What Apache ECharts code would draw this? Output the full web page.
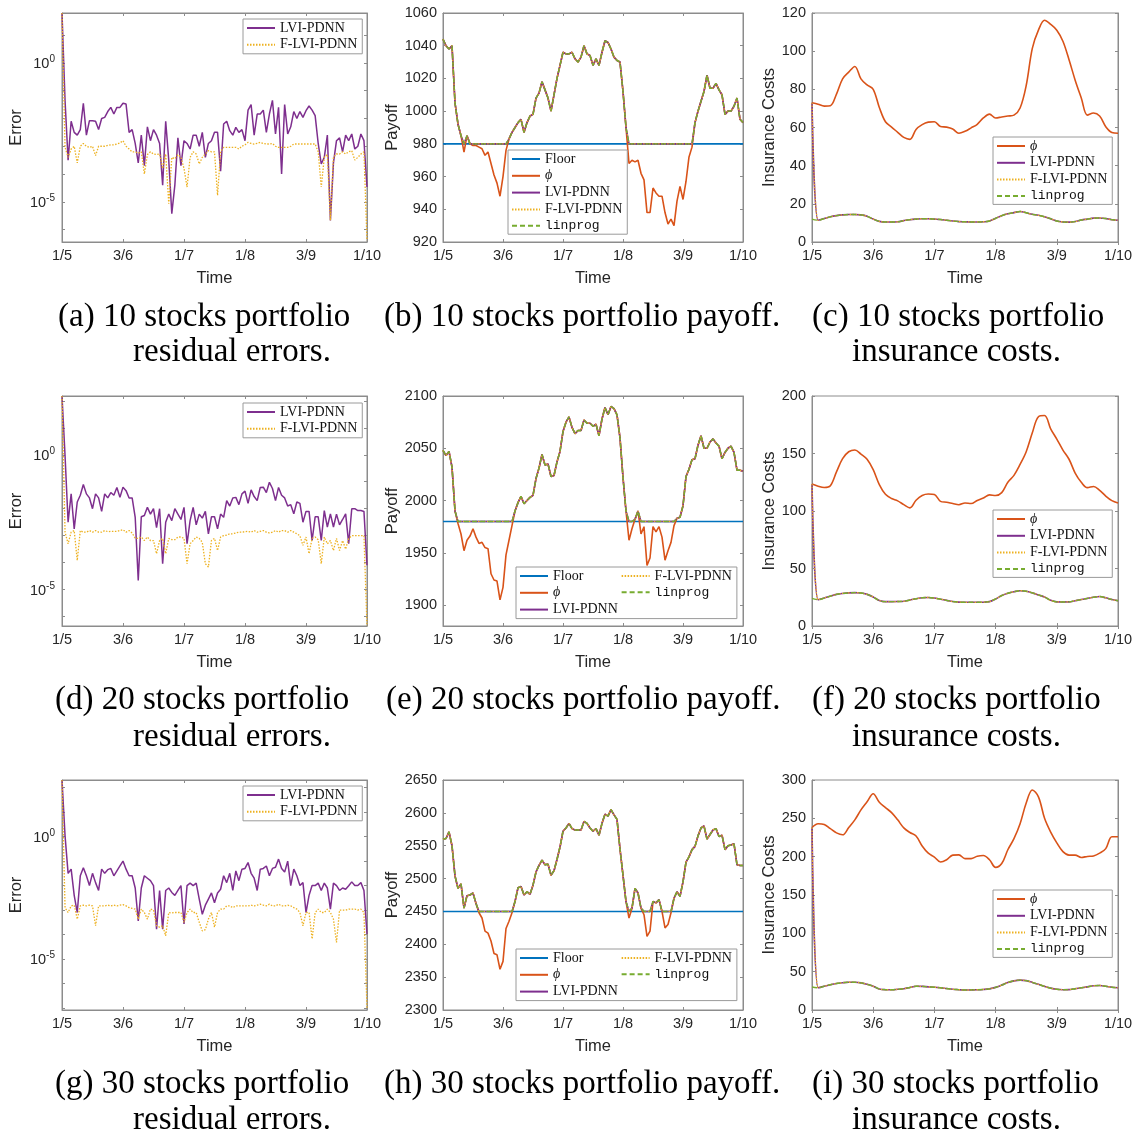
<!DOCTYPE html>
<html lang="en">
<head>
<meta charset="UTF-8">
<script src="https://cdn.jsdelivr.net/npm/echarts@6.0.0/dist/echarts.min.js"></script>
<style>
    html, body { margin: 0; padding: 0; background: #fff; }
    #chart { width: 1141px; height: 1136px; }
</style>
<title>Portfolio insurance</title>
</head>
<body>
<div id="chart"></div>
<script type="text/javascript">
    // x axis tick labels (trading days, 1/5 .. 1/10)
    var timeTicks = ['1/5', '3/6', '1/7', '1/8', '3/9', '1/10'];

    // residual errors, stored as log10(error), 101 samples
    var errLvi10 = [1.8, -1.36, -3.5, -2.1, -2.5, -2.6, -2.4, -1.45, -2.6, -2.08,
        -2.08, -2.1, -2.4, -2.0, -1.96, -1.75, -1.6, -1.84, -1.6, -1.6,
        -1.45, -1.48, -2.5, -2.4, -2.9, -3.6, -2.6, -3.7, -2.3, -2.8,
        -2.4, -2.6, -2.9, -4.4, -2.1, -3.5, -5.43, -4.4, -2.7, -3.7,
        -2.8, -2.9, -3.1, -2.6, -2.6, -3.0, -2.5, -3.4, -2.9, -2.8,
        -2.5, -2.5, -3.9, -2.2, -2.1, -2.44, -2.6, -2.32, -2.5, -2.4,
        -2.8, -1.7, -1.5, -2.6, -1.84, -1.84, -1.7, -2.5, -1.84, -1.35,
        -2.56, -1.6, -4.0, -1.5, -2.56, -2.3, -1.75, -2.0, -1.75, -1.96,
        -1.72, -1.55, -1.7, -1.9, -2.9, -3.64, -3.4, -2.6, -5.67, -3.6,
        -2.8, -2.7, -3.2, -2.6, -2.8, -2.56, -3.1, -3.0, -2.56, -2.8,
        -4.47];
    var errFlvi10 = [1.8, -3.04, -3.4, -3.1, -3.0, -3.6, -3.0, -2.9, -3.0, -3.04,
        -3.0, -3.34, -3.0, -3.0, -3.0, -2.97, -2.95, -2.95, -2.92, -2.88,
        -2.8, -3.0, -3.1, -3.2, -3.2, -3.25, -3.2, -4.0, -3.3, -3.2,
        -3.28, -3.3, -3.28, -3.8, -3.28, -5.07, -3.4, -3.45, -3.3, -3.4,
        -3.8, -4.47, -3.4, -3.2, -3.28, -3.64, -3.4, -3.28, -3.16, -3.2,
        -3.2, -4.77, -3.2, -3.04, -3.04, -3.04, -3.04, -3.04, -3.1, -3.0,
        -2.95, -2.86, -2.9, -2.92, -2.9, -2.86, -2.9, -2.92, -2.92, -2.9,
        -3.0, -3.04, -3.04, -3.04, -3.04, -3.0, -2.92, -2.92, -2.92, -2.92,
        -2.92, -2.92, -2.92, -2.92, -3.2, -4.47, -3.4, -3.3, -5.67, -3.4,
        -3.28, -3.28, -3.2, -3.28, -3.2, -3.16, -3.5, -3.4, -3.28, -3.2,
        -6.4];
    var errLvi20 = [2.18, -0.04, -2.5, -1.45, -2.75, -1.75, -1.5, -1.1, -1.45, -1.6,
        -2.0, -1.45, -1.6, -2.1, -1.45, -1.6, -1.4, -1.5, -1.21, -1.58,
        -1.2, -1.33, -1.6, -1.6, -2.32, -4.66, -2.3, -2.25, -1.95, -2.2,
        -2.0, -2.7, -2.0, -4.04, -2.5, -2.2, -2.44, -2.0, -2.2, -2.4,
        -1.95, -3.3, -2.44, -1.95, -2.6, -2.2, -2.35, -2.1, -2.93, -2.3,
        -2.3, -2.75, -2.2, -2.32, -1.7, -1.9, -1.6, -1.58, -1.85, -1.45,
        -1.35, -1.8, -1.3, -1.55, -1.7, -1.21, -1.2, -1.4, -1.02, -1.25,
        -1.7, -1.21, -1.5, -1.6, -1.9, -1.85, -2.19, -1.75, -1.8, -2.5,
        -2.1, -2.1, -3.18, -2.3, -2.3, -3.18, -2.07, -2.68, -2.19, -2.68,
        -2.2, -2.6, -2.4, -2.19, -3.3, -2.0, -2.0, -2.07, -2.07, -2.1,
        -4.1];
    var errFlvi20 = [2.18, -2.87, -3.3, -2.87, -2.81, -3.92, -2.81, -2.87, -2.87, -2.81,
        -2.87, -2.81, -2.87, -2.87, -2.81, -2.85, -2.84, -2.84, -2.84, -2.81,
        -2.78, -2.87, -2.81, -2.9, -3.1, -3.1, -3.05, -3.18, -3.05, -3.18,
        -3.18, -3.67, -3.18, -3.1, -3.67, -3.1, -3.15, -3.15, -3.05, -3.05,
        -3.1, -4.04, -3.3, -3.18, -3.05, -3.1, -3.25, -4.04, -4.16, -3.18,
        -3.1, -3.55, -3.05, -3.0, -2.98, -2.93, -2.93, -2.9, -2.87, -2.87,
        -2.85, -2.84, -2.87, -2.81, -2.87, -2.84, -2.81, -2.87, -2.9, -2.87,
        -2.81, -2.87, -2.81, -2.81, -2.87, -2.81, -2.87, -2.93, -3.0, -3.36,
        -3.05, -3.67, -3.1, -3.05, -3.15, -4.04, -3.05, -3.3, -3.18, -3.55,
        -3.1, -3.55, -3.18, -3.5, -3.1, -3.0, -3.0, -3.0, -3.0, -3.0,
        -6.35];
    var errLvi30 = [2.31, 0.03, -1.5, -1.33, -2.4, -3.1, -1.6, -1.27, -1.6, -2.0,
        -1.5, -1.88, -2.2, -1.33, -1.5, -1.35, -1.3, -1.6, -1.4, -1.2,
        -1.0, -1.33, -1.6, -1.6, -2.1, -3.44, -2.1, -1.6, -1.7, -1.8,
        -2.0, -3.78, -2.2, -3.78, -2.2, -2.1, -2.28, -2.4, -2.2, -2.0,
        -3.57, -2.0, -1.9, -2.0, -1.9, -2.55, -3.17, -2.8, -2.55, -2.3,
        -2.7, -2.3, -2.15, -1.6, -1.88, -1.5, -2.2, -1.4, -1.8, -1.33,
        -1.3, -1.06, -1.5, -1.7, -2.2, -1.33, -1.3, -1.2, -1.6, -1.3,
        -1.25, -0.92, -1.3, -1.45, -1.0, -2.0, -1.33, -1.6, -2.0, -1.88,
        -3.1, -2.4, -2.0, -2.0, -1.9, -2.2, -1.9, -2.1, -2.96, -1.9,
        -2.0, -2.2, -2.1, -2.15, -2.01, -1.85, -2.0, -2.0, -1.88, -2.2,
        -3.98];
    var errFlvi30 = [2.31, -2.9, -3.1, -2.83, -2.8, -3.37, -2.83, -2.8, -2.83, -2.8,
        -2.83, -3.64, -2.83, -2.83, -2.83, -2.8, -2.83, -2.8, -2.83, -2.8,
        -2.78, -2.83, -2.9, -2.93, -2.96, -3.37, -2.96, -3.1, -3.37, -2.96,
        -3.0, -3.64, -3.7, -3.64, -4.05, -3.1, -3.12, -3.1, -3.1, -3.1,
        -3.5, -3.1, -2.96, -3.1, -3.1, -3.5, -3.85, -3.8, -3.37, -3.1,
        -3.7, -3.1, -2.96, -2.96, -2.83, -2.83, -2.9, -2.83, -2.83, -2.83,
        -2.83, -2.83, -2.8, -2.83, -2.8, -2.76, -2.8, -2.83, -2.76, -2.83,
        -2.83, -2.76, -2.83, -2.83, -2.8, -2.83, -2.9, -2.96, -3.1, -3.64,
        -3.1, -3.1, -4.18, -3.1, -2.96, -3.1, -3.1, -2.96, -3.1, -3.37,
        -4.32, -3.0, -3.0, -3.0, -2.96, -2.96, -2.96, -3.0, -2.96, -3.1,
        -7.04];
    var errLabelVals = [1e-5, 1];

    // payoff, 101 samples; "prot" = LVI-PDNN / F-LVI-PDNN / linprog (they overlap)
    var floor10 = 980, floor20 = 1980, floor30 = 2450;
    var payPhi10 = [1044, 1040, 1038, 1040, 1005, 992, 985, 975, 985, 980,
        979, 979, 978, 977, 973, 975, 968, 961, 956, 948,
        960, 976, 983, 987, 990, 993, 995, 987, 993, 997,
        998, 1008, 1011, 1018, 1013, 1008, 1000, 1010, 1020, 1028,
        1036, 1035, 1035, 1036, 1032, 1030, 1033, 1040, 1035, 1034,
        1028, 1032, 1028, 1036, 1043, 1042, 1038, 1033, 1031, 1030,
        1012, 990, 968, 970, 969, 970, 962, 958, 938, 938,
        953, 950, 948, 948, 938, 931, 934, 930, 945, 954,
        946, 957, 972, 978, 993, 1000, 1006, 1012, 1022, 1014,
        1014, 1017, 1013, 1010, 998, 1000, 1000, 1003, 1008, 995,
        993];
    var payProt10 = [1044, 1040, 1038, 1040, 1005, 992, 985, 980, 985, 980,
        980, 980, 980, 980, 980, 980, 980, 980, 980, 980,
        980, 980, 983, 987, 990, 993, 995, 987, 993, 997,
        998, 1008, 1011, 1018, 1013, 1008, 1000, 1010, 1020, 1028,
        1036, 1035, 1035, 1036, 1032, 1030, 1033, 1040, 1035, 1034,
        1028, 1032, 1028, 1036, 1043, 1042, 1038, 1033, 1031, 1030,
        1012, 990, 980, 980, 980, 980, 980, 980, 980, 980,
        980, 980, 980, 980, 980, 980, 980, 980, 980, 980,
        980, 980, 980, 980, 993, 1000, 1006, 1012, 1022, 1014,
        1014, 1017, 1013, 1010, 998, 1000, 1000, 1003, 1008, 995,
        993];
    var payPhi20 = [2048, 2043, 2047, 2032, 1990, 1978, 1968, 1952, 1962, 1966,
        1973, 1965, 1959, 1960, 1955, 1954, 1930, 1924, 1923, 1905,
        1917, 1948, 1962, 1976, 1990, 1998, 2004, 1997, 2000, 2003,
        2005, 2021, 2031, 2044, 2034, 2035, 2023, 2024, 2037, 2047,
        2066, 2075, 2080, 2070, 2064, 2067, 2067, 2077, 2074, 2074,
        2071, 2073, 2062, 2078, 2089, 2082, 2090, 2088, 2082, 2060,
        2022, 1990, 1962, 1973, 1982, 1990, 1968, 1975, 1938, 1945,
        1975, 1970, 1975, 1965, 1943, 1952, 1960, 1976, 1983, 1984,
        1995, 2023, 2030, 2039, 2040, 2053, 2062, 2050, 2050, 2056,
        2059, 2055, 2052, 2040, 2046, 2050, 2052, 2046, 2029, 2029,
        2028];
    var payProt20 = [2048, 2043, 2047, 2032, 1990, 1980, 1980, 1980, 1980, 1980,
        1980, 1980, 1980, 1980, 1980, 1980, 1980, 1980, 1980, 1980,
        1980, 1980, 1980, 1980, 1990, 1998, 2004, 1997, 2000, 2003,
        2005, 2021, 2031, 2044, 2034, 2035, 2023, 2024, 2037, 2047,
        2066, 2075, 2080, 2070, 2064, 2067, 2067, 2077, 2074, 2074,
        2071, 2073, 2062, 2078, 2089, 2082, 2090, 2088, 2082, 2060,
        2022, 1990, 1980, 1980, 1982, 1990, 1980, 1980, 1980, 1980,
        1980, 1980, 1980, 1980, 1980, 1980, 1980, 1980, 1983, 1984,
        1995, 2023, 2030, 2039, 2040, 2053, 2062, 2050, 2050, 2056,
        2059, 2055, 2052, 2040, 2046, 2050, 2052, 2046, 2029, 2029,
        2028];
    var payPhi30 = [2560, 2561, 2571, 2550, 2504, 2485, 2492, 2455, 2474, 2475,
        2478, 2462, 2448, 2440, 2420, 2417, 2405, 2386, 2384, 2362,
        2374, 2424, 2435, 2448, 2465, 2486, 2488, 2475, 2480, 2476,
        2490, 2510, 2520, 2528, 2521, 2522, 2505, 2512, 2529, 2548,
        2572, 2577, 2584, 2576, 2574, 2574, 2574, 2587, 2584, 2577,
        2572, 2576, 2566, 2584, 2598, 2595, 2605, 2597, 2590, 2545,
        2505, 2465, 2440, 2455, 2485, 2478, 2455, 2445, 2412, 2420,
        2465, 2463, 2468, 2450, 2425, 2430, 2448, 2470, 2480, 2473,
        2495, 2525, 2533, 2544, 2549, 2565, 2577, 2580, 2560, 2567,
        2574, 2576, 2564, 2566, 2544, 2550, 2551, 2553, 2521, 2520,
        2520];
    var payProt30 = [2560, 2561, 2571, 2550, 2504, 2485, 2492, 2455, 2474, 2475,
        2478, 2462, 2450, 2450, 2450, 2450, 2450, 2450, 2450, 2450,
        2450, 2450, 2450, 2450, 2465, 2486, 2488, 2475, 2480, 2476,
        2490, 2510, 2520, 2528, 2521, 2522, 2505, 2512, 2529, 2548,
        2572, 2577, 2584, 2576, 2574, 2574, 2574, 2587, 2584, 2577,
        2572, 2576, 2566, 2584, 2598, 2595, 2605, 2597, 2590, 2545,
        2505, 2465, 2450, 2455, 2485, 2478, 2455, 2450, 2450, 2450,
        2465, 2463, 2468, 2450, 2450, 2450, 2450, 2470, 2480, 2473,
        2495, 2525, 2533, 2544, 2549, 2565, 2577, 2580, 2560, 2567,
        2574, 2576, 2564, 2566, 2544, 2550, 2551, 2553, 2521, 2520,
        2520];
    var payTicks10 = [920, 940, 960, 980, 1000, 1020, 1040, 1060];
    var payTicks20 = [1900, 1950, 2000, 2050, 2100];
    var payTicks30 = [2300, 2350, 2400, 2450, 2500, 2550, 2600, 2650];

    // insurance costs, 51 samples; LVI-PDNN and F-LVI-PDNN start at costStart
    var costPhi10 = [73, 72.2, 71.2, 71.4, 77.5, 85.5, 89, 92, 85.5, 82.3,
        80, 70.5, 63, 60.2, 57.5, 54.8, 53.8, 59, 61.5, 62.8,
        63, 60.5, 60.2, 59.2, 57, 58, 59.8, 61.7, 65, 67,
        65, 65.5, 66, 66.5, 70.2, 82, 101.5, 111, 116.2, 114,
        111, 105.2, 95.5, 84.8, 75.5, 66.5, 67.6, 66, 60.4, 57.4,
        57];
    var costLp10 = [12, 11.4, 12.3, 13.2, 13.8, 14.2, 14.4, 14.4, 14.2, 13.5,
        12, 10.8, 10.5, 10.5, 10.6, 11.2, 11.7, 12, 12.2, 12.2,
        12, 11.8, 11.4, 11, 10.7, 10.6, 10.5, 10.5, 10.6, 11,
        12.4, 13.8, 14.8, 15.4, 16, 15.3, 14.5, 14, 13.2, 12.2,
        11, 10.5, 10.4, 10.7, 11.5, 12, 12.5, 12.6, 12.3, 11.7,
        11.4];
    var costStart10 = 73;
    var costPhi20 = [123.5, 121.6, 120.5, 122, 134, 145.5, 151.5, 153, 149.5, 145,
        136, 123, 114.5, 110.8, 108.8, 105.5, 102.7, 109.3, 113.5, 114.8,
        114.3, 108.4, 107.6, 106.5, 105.5, 107, 106.5, 109.2, 111.3, 114,
        113.5, 116, 125, 131, 140.5, 151.5, 168, 182, 183, 171.5,
        162.5, 153, 145, 133, 125, 120.3, 121.3, 118, 113, 109,
        107];
    var costLp20 = [24, 22.8, 24.3, 26, 27.5, 28.3, 28.8, 29, 28.7, 27.5,
        25.2, 22.2, 21.2, 21.2, 21.3, 21.5, 22.6, 23.7, 24.6, 24.8,
        24.3, 23.3, 22.3, 21.3, 20.8, 20.6, 20.6, 20.6, 20.7, 21.2,
        23.5, 26.5, 28.5, 29.8, 30.7, 30.2, 28.8, 27, 25.2, 22.3,
        21, 20.9, 21, 22, 23, 24, 25, 25.6, 24.5, 23,
        22];
    var costStart20 = 123.5;
    var costPhi30 = [238, 243, 242, 236.5, 231, 228.5, 238, 248, 261, 271.5,
        282, 271, 264, 257.5, 248, 237.5, 231.5, 227, 214, 204.6,
        199.5, 193, 196, 202, 202.4, 197.5, 197.5, 200.5, 201.5, 196,
        186, 191, 209, 223.5, 243, 270, 287, 278, 250, 232,
        218, 206.5, 202, 202, 199, 200.3, 201, 204.6, 210.5, 226,
        226];
    var costLp30 = [30, 29, 31, 33, 34.6, 35.6, 36.2, 36.1, 35.4, 33.5,
        31, 27.4, 26.5, 26.4, 27, 27.8, 29.4, 31, 30.8, 30.2,
        29.7, 29, 28, 27, 26.5, 26, 26.2, 26.4, 26.8, 27.6,
        29.5, 32.5, 35.8, 38, 39, 38.3, 36, 33.5, 30.8, 28.5,
        27, 26.5, 26.6, 27.8, 29, 30.2, 31.6, 32, 31, 29.7,
        29];
    var costStart30 = 238;
    var costTicks10 = [0, 20, 40, 60, 80, 100, 120];
    var costTicks20 = [0, 50, 100, 150, 200];
    var costTicks30 = [0, 50, 100, 150, 200, 250, 300];

    var AX = '#8c8c8c', TXT = '#262626';
    var C_FLOOR = '#0072BD', C_PHI = '#D95319', C_LVI = '#7E2F8E', C_FLVI = '#EDB120', C_LP = '#77AC30';
    var PHI = '\u03D5';

    var cols = [[62, 305], [443, 300], [812, 306]];
    var rows = [[13, 229], [396, 230], [780, 230]];

    var panels = [
        {kind: 'err', r: 0, c: 0, lvi: errLvi10, flvi: errFlvi10, ymin: -6.45, ymax: 1.8, lg: [243, 19]},
        {kind: 'pay', r: 0, c: 1, phi: payPhi10, prot: payProt10, floor: floor10, ticks: payTicks10, ymin: 920, ymax: 1060, lg: [508, 150]},
        {kind: 'cost', r: 0, c: 2, phi: costPhi10, lp: costLp10, start: costStart10, ticks: costTicks10, ymin: 0, ymax: 120, lg: [993, 137]},
        {kind: 'err', r: 1, c: 0, lvi: errLvi20, flvi: errFlvi20, ymin: -6.35, ymax: 2.18, lg: [243, 403]},
        {kind: 'pay', r: 1, c: 1, phi: payPhi20, prot: payProt20, floor: floor20, ticks: payTicks20, ymin: 1880, ymax: 2100, lg: [516, 567], twoCol: true},
        {kind: 'cost', r: 1, c: 2, phi: costPhi20, lp: costLp20, start: costStart20, ticks: costTicks20, ymin: 0, ymax: 200, lg: [993, 510]},
        {kind: 'err', r: 2, c: 0, lvi: errLvi30, flvi: errFlvi30, ymin: -7.08, ymax: 2.31, lg: [243, 786]},
        {kind: 'pay', r: 2, c: 1, phi: payPhi30, prot: payProt30, floor: floor30, ticks: payTicks30, ymin: 2300, ymax: 2650, lg: [516, 949], twoCol: true},
        {kind: 'cost', r: 2, c: 2, phi: costPhi30, lp: costLp30, start: costStart30, ticks: costTicks30, ymin: 0, ymax: 300, lg: [993, 890]}
    ];

    var captions = [
        ['(a) 10 stocks portfolio', 58, 317], ['residual errors.', 133, 352],
        ['(b) 10 stocks portfolio payoff.', 384, 317],
        ['(c) 10 stocks portfolio', 812, 317], ['insurance costs.', 852, 352],
        ['(d) 20 stocks portfolio', 55, 700], ['residual errors.', 133, 737],
        ['(e) 20 stocks portfolio payoff.', 386, 700],
        ['(f) 20 stocks portfolio', 812, 700], ['insurance costs.', 852, 737],
        ['(g) 30 stocks portfolio', 55, 1084], ['residual errors.', 133, 1120],
        ['(h) 30 stocks portfolio payoff.', 384, 1084],
        ['(i) 30 stocks portfolio', 812, 1084], ['insurance costs.', 852, 1120]
    ];

    function dayIndex(n) {
        var a = [];
        for (var i = 0; i < n; i++) a.push('d' + i);
        return a;
    }

    function lineSeries(name, data, k, color, width, type, smooth) {
        return {
            name: name, type: 'line', xAxisIndex: 2 * k, yAxisIndex: 2 * k,
            data: data, showSymbol: false, symbol: 'none', silent: true,
            smooth: smooth || false,
            lineStyle: {color: color, width: width, type: type || 'solid'},
            itemStyle: {color: color}
        };
    }

    var legendRich = {
        s: {fontFamily: 'Liberation Serif', fontSize: 14, color: '#111'},
        p: {fontFamily: 'Liberation Serif', fontStyle: 'italic', fontSize: 14, color: '#111'},
        m: {fontFamily: 'Liberation Mono', fontSize: 13, color: '#111'}
    };
    function legendFormatter(name) {
        if (name === 'linprog') return '{m|linprog}';
        if (name === PHI) return '{p|' + PHI + '}';
        return '{s|' + name + '}';
    }

    var option = {
        animation: false,
        backgroundColor: '#fff',
        textStyle: {fontFamily: 'Liberation Sans'},
        grid: [], xAxis: [], yAxis: [], series: [], legend: [], graphic: []
    };

    panels.forEach(function (p, k) {
        var left = cols[p.c][0], width = cols[p.c][1];
        var top = rows[p.r][0], height = rows[p.r][1];
        option.grid.push({
            left: left, top: top, width: width, height: height, show: true,
            borderColor: AX, borderWidth: 1, containLabel: false, outerBoundsMode: 'none'
        });

        var n = p.kind === 'cost' ? 51 : 101;
        var step = (n - 1) / 5;
        var cats = dayIndex(n);
        var xBase = {
            type: 'category', gridIndex: k, data: cats, boundaryGap: false,
            axisLine: {show: true, lineStyle: {color: AX}},
            axisTick: {show: true, inside: true, length: 3, interval: step - 1, lineStyle: {color: AX}},
            splitLine: {show: false}
        };
        option.xAxis.push(Object.assign({}, xBase, {
            position: 'bottom',
            name: 'Time', nameLocation: 'middle', nameGap: 28,
            nameTextStyle: {fontSize: 16.5, color: TXT, fontFamily: 'Liberation Sans'},
            axisLabel: {
                interval: step - 1, margin: 6, fontSize: 14.5, color: TXT, fontFamily: 'Liberation Sans',
                formatter: function (v, idx) { return idx % step === 0 ? timeTicks[idx / step] : ''; }
            }
        }));
        option.xAxis.push(Object.assign({}, xBase, {position: 'top', axisLabel: {show: false}}));

        var yName = p.kind === 'err' ? 'Error' : (p.kind === 'pay' ? 'Payoff' : 'Insurance Costs');
        var yGap = p.kind === 'err' ? 37 : (p.kind === 'pay' ? 37 : 33);
        var yLeft, yRight;
        if (p.kind === 'err') {
            var decades = [];
            for (var e = Math.ceil(p.ymin); e <= Math.floor(p.ymax); e++) decades.push(Math.pow(10, e));
            var yBase = {
                type: 'log', logBase: 10, gridIndex: k,
                min: Math.pow(10, p.ymin), max: Math.pow(10, p.ymax),
                axisLine: {show: true, lineStyle: {color: AX}},
                axisTick: {show: true, inside: true, length: 3, customValues: decades, lineStyle: {color: AX}},
                splitLine: {show: false}, minorTick: {show: false}
            };
            yLeft = Object.assign({}, yBase, {
                position: 'left',
                axisLabel: {
                    customValues: errLabelVals, margin: 7, color: TXT,
                    formatter: function (v) { return '{b|10}{s|' + Math.round(Math.log10(v)) + '}'; },
                    rich: {
                        b: {fontSize: 14.5, color: TXT, fontFamily: 'Liberation Sans', verticalAlign: 'bottom'},
                        s: {fontSize: 10, color: TXT, fontFamily: 'Liberation Sans', verticalAlign: 'bottom', padding: [0, 0, 7, 0]}
                    }
                }
            });
            yRight = Object.assign({}, yBase, {position: 'right', axisLabel: {show: false}});
        } else {
            var yBase2 = {
                type: 'value', gridIndex: k, min: p.ymin, max: p.ymax,
                axisLine: {show: true, lineStyle: {color: AX}},
                axisTick: {show: true, inside: true, length: 3, customValues: p.ticks, lineStyle: {color: AX}},
                splitLine: {show: false}
            };
            yLeft = Object.assign({}, yBase2, {
                position: 'left',
                axisLabel: {
                    customValues: p.ticks, margin: 6, fontSize: 14.5, color: TXT, fontFamily: 'Liberation Sans',
                    formatter: function (v) { return String(v); }
                }
            });
            yRight = Object.assign({}, yBase2, {position: 'right', axisLabel: {show: false}});
        }
        yLeft.name = yName;
        yLeft.nameLocation = 'middle';
        yLeft.nameGap = yGap;
        yLeft.nameTextStyle = {fontSize: 16.5, color: TXT, fontFamily: 'Liberation Sans'};
        option.yAxis.push(yLeft, yRight);

        var names;
        if (p.kind === 'err') {
            names = ['LVI-PDNN', 'F-LVI-PDNN'];
            option.series.push(lineSeries('LVI-PDNN', p.lvi.map(function (v) { return Math.pow(10, v); }), k, C_LVI, 1.5));
            option.series.push(lineSeries('F-LVI-PDNN', p.flvi.map(function (v) { return Math.pow(10, v); }), k, C_FLVI, 1.3, [1.5, 1.5]));
        } else if (p.kind === 'pay') {
            names = ['Floor', PHI, 'LVI-PDNN', 'F-LVI-PDNN', 'linprog'];
            option.series.push(lineSeries('Floor', cats.map(function () { return p.floor; }), k, C_FLOOR, 1.6));
            option.series.push(lineSeries(PHI, p.phi, k, C_PHI, 1.6));
            option.series.push(lineSeries('LVI-PDNN', p.prot, k, C_LVI, 1.6));
            option.series.push(lineSeries('F-LVI-PDNN', p.prot, k, C_FLVI, 1.3, [1.5, 1.5]));
            option.series.push(lineSeries('linprog', p.prot, k, C_LP, 1.4, [5, 3]));
        } else {
            names = [PHI, 'LVI-PDNN', 'F-LVI-PDNN', 'linprog'];
            var lviCost = [p.start].concat(p.lp.slice(1));
            option.series.push(lineSeries(PHI, p.phi, k, C_PHI, 1.6, null, 0.35));
            option.series.push(lineSeries('LVI-PDNN', lviCost, k, C_LVI, 1.6, null, 0.35));
            option.series.push(lineSeries('F-LVI-PDNN', lviCost, k, C_FLVI, 1.3, [1.5, 1.5], 0.35));
            option.series.push(lineSeries('linprog', p.lp, k, C_LP, 1.4, [5, 3], 0.35));
        }

        var lg = {
            data: names, orient: 'vertical', left: p.lg[0], top: p.lg[1],
            itemWidth: 28, itemHeight: 14, itemGap: 2.8, padding: [2, 5, 2, 3],
            backgroundColor: '#fff', borderColor: '#9a9a9a', borderWidth: 1, borderRadius: 0,
            itemStyle: {opacity: 0},
            selectedMode: false, formatter: legendFormatter, textStyle: {rich: legendRich}
        };
        if (p.twoCol) lg.height = 48;
        option.legend.push(lg);
    });

    captions.forEach(function (c) {
        option.graphic.push({
            type: 'text', x: c[1], y: c[2], silent: true,
            style: {text: c[0], fill: '#000', font: '33px "Liberation Serif"', align: 'left', verticalAlign: 'middle'}
        });
    });

    var myChart = echarts.init(document.getElementById('chart'));
    myChart.setOption(option);
</script>
</body>
</html>
